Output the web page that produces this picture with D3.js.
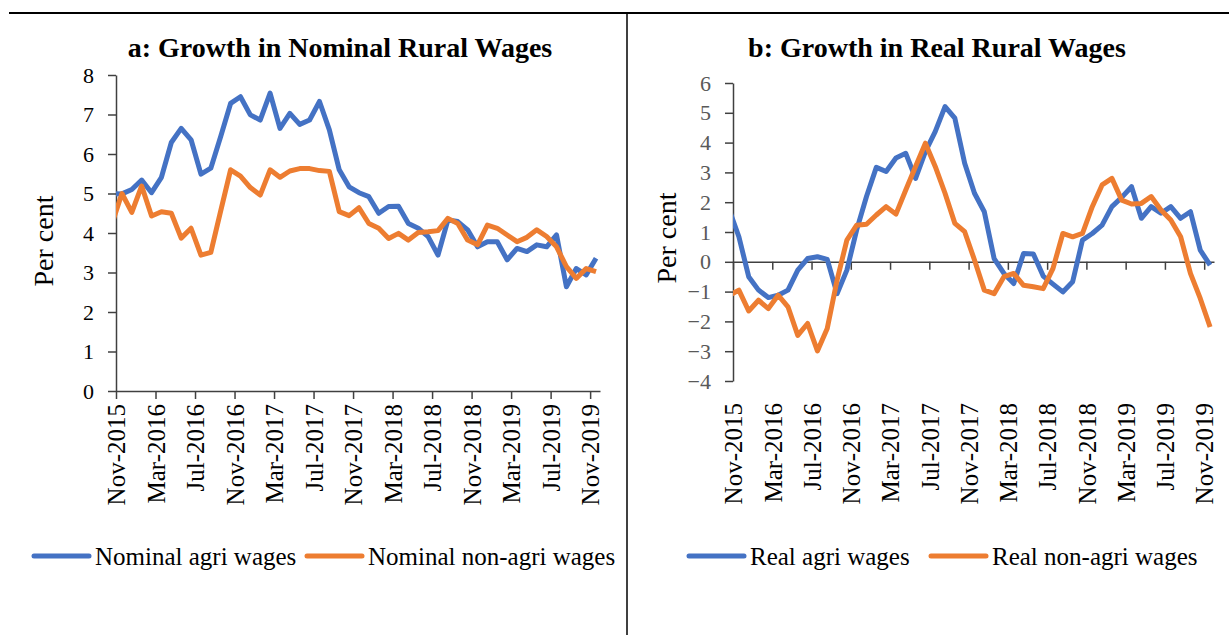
<!DOCTYPE html>
<html>
<head>
<meta charset="utf-8">
<script src="https://cdn.jsdelivr.net/npm/d3@7"></script>
<style>
  body { margin: 0; background: #fff; }
  svg { display: block; font-family: "Liberation Serif", "Times New Roman", serif; }
</style>
</head>
<body>
<div id="chart"></div>
<script>
const SERIF = '"Liberation Serif", "Times New Roman", serif';

// months Oct-2015 .. Nov-2019 (first one sits left of the axis and gets clipped)
const months = d3.timeMonth.range(new Date(2015, 9, 1), new Date(2019, 11, 1)).map(d3.timeFormat("%b-%Y"));

const tickLabels = ["Nov-2015", "Mar-2016", "Jul-2016", "Nov-2016", "Mar-2017", "Jul-2017", "Nov-2017",
  "Mar-2018", "Jul-2018", "Nov-2018", "Mar-2019", "Jul-2019", "Nov-2019"];

const nominalAgri = [5.0,
  4.99, 5.1, 5.34, 5.02, 5.41, 6.29, 6.65, 6.36, 5.49, 5.64,
  6.44, 7.28, 7.45, 6.99, 6.86, 7.54, 6.65, 7.03, 6.75, 6.86,
  7.33, 6.61, 5.6, 5.17, 5.02, 4.92, 4.5, 4.67, 4.68, 4.24,
  4.12, 3.91, 3.44, 4.33, 4.29, 4.08, 3.65, 3.78, 3.78, 3.32,
  3.61, 3.53, 3.7, 3.65, 3.95, 2.64, 3.1, 2.94, 3.36];

const nominalNonAgri = [4.24,
  5.0, 4.52, 5.19, 4.43, 4.54, 4.5, 3.87, 4.12, 3.44, 3.51,
  4.56, 5.6, 5.44, 5.15, 4.96, 5.6, 5.41, 5.57, 5.63, 5.63,
  5.58, 5.56, 4.54, 4.44, 4.64, 4.24, 4.12, 3.86, 3.99, 3.82,
  4.01, 4.03, 4.06, 4.37, 4.24, 3.82, 3.7, 4.2, 4.12, 3.95,
  3.78, 3.89, 4.08, 3.91, 3.65, 3.15, 2.85, 3.1, 3.02];

const realAgri = [1.76,
  0.84, -0.5, -0.95, -1.2, -1.12, -0.95, -0.28, 0.11, 0.17, 0.08,
  -1.07, -0.28, 1.07, 2.19, 3.17, 3.03, 3.48, 3.64, 2.8, 3.7,
  4.37, 5.21, 4.82, 3.31, 2.3, 1.68, 0.11, -0.39, -0.73, 0.28,
  0.26, -0.48, -0.75, -1.01, -0.67, 0.73, 0.95, 1.23, 1.85, 2.16,
  2.52, 1.46, 1.85, 1.63, 1.85, 1.46, 1.68, 0.39, -0.11];

const realNonAgri = [-1.13,
  -0.95, -1.65, -1.29, -1.57, -1.12, -1.51, -2.47, -2.07, -2.99, -2.24,
  -0.62, 0.73, 1.23, 1.26, 1.57, 1.85, 1.6, 2.41, 3.2, 3.98,
  3.2, 2.3, 1.29, 1.01, 0.06, -0.95, -1.07, -0.5, -0.39, -0.79,
  -0.84, -0.9, -0.22, 0.95, 0.84, 0.95, 1.85, 2.58, 2.8, 2.07,
  1.94, 1.96, 2.19, 1.74, 1.4, 0.84, -0.39, -1.23, -2.19];

const BLUE = "#4472C4", ORANGE = "#ED7D31";
const W = 1229, H = 635;
const pointOffset = 0.6; // data sit a little right of the month tick

const svg = d3.select("#chart").append("svg").attr("width", W).attr("height", H);

// frame lines
svg.append("line").attr("x1", 9).attr("x2", W).attr("y1", 13).attr("y2", 13)
  .attr("stroke", "#000").attr("stroke-width", 2);
svg.append("line").attr("x1", 627).attr("x2", 627).attr("y1", 13).attr("y2", H)
  .attr("stroke", "#000").attr("stroke-width", 1.5);

function drawPanel(p) {
  const g = svg.append("g");
  const x = d3.scaleLinear().domain([0, 49]).range(p.xRange);
  const y = d3.scaleLinear().domain(p.yDomain).range(p.yRange);
  const tickVals = tickLabels.map((_, j) => j * 4);

  g.append("text")
    .attr("x", p.titleX).attr("y", 57)
    .attr("text-anchor", "middle")
    .style("font-size", "28px").style("font-weight", "bold")
    .text(p.title);

  g.append("text")
    .attr("transform", `translate(${p.labelX},${p.labelY}) rotate(-90)`)
    .attr("text-anchor", "middle").attr("dominant-baseline", "central")
    .style("font-size", "28px")
    .text("Per cent");

  // y axis
  const yAxis = g.append("g")
    .attr("transform", `translate(${p.xRange[0]},0)`)
    .call(d3.axisLeft(y).tickValues(d3.range(p.yDomain[0], p.yDomain[1] + 1))
      .tickSize(8).tickSizeOuter(0).tickPadding(14).tickFormat(d3.format("d")));
  yAxis.attr("font-family", SERIF);
  yAxis.selectAll("text").style("font-size", "22px")
    .attr("fill", p.yTickColor);

  // x axis on the zero line
  const x0 = y(Math.max(0, p.yDomain[0]));
  const xAxis = g.append("g")
    .attr("transform", `translate(0,${x0})`)
    .call(d3.axisBottom(x).tickValues(tickVals).tickSize(8).tickSizeOuter(0)
      .tickFormat(""));

  // rotated month labels
  const lab = g.append("g")
    .attr("transform", `translate(0,${p.labelTop})`)
    .call(d3.axisBottom(x).tickValues(tickVals).tickSize(0).tickPadding(0)
      .tickFormat((d, j) => tickLabels[j]));
  lab.attr("font-family", SERIF);
  lab.select(".domain").remove();
  lab.selectAll("text")
    .style("font-size", "25px").attr("fill", "#000")
    .attr("transform", "rotate(-90)")
    .attr("x", 0).attr("y", 0).attr("dy", "0.35em")
    .style("text-anchor", "end");

  [yAxis, xAxis].forEach(a => {
    a.selectAll("path, line").attr("stroke", "#404040").attr("stroke-width", 1.5);
  });

  const clipId = "clip-" + p.key;
  g.append("clipPath").attr("id", clipId).append("rect")
    .attr("x", p.xRange[0]).attr("y", 0)
    .attr("width", p.xRange[1] - p.xRange[0] + 20).attr("height", H);

  const line = d3.line()
    .x((d, i) => x(i - 1 + pointOffset))
    .y(d => y(d));

  const plot = g.append("g").attr("clip-path", `url(#${clipId})`);
  p.series.forEach(s => {
    plot.append("path")
      .datum(s.values)
      .attr("d", line)
      .attr("fill", "none")
      .attr("stroke", s.color)
      .attr("stroke-width", 5)
      .attr("stroke-linejoin", "round");
  });

  // legend
  const lg = g.append("g").attr("transform", `translate(0,556)`);
  p.series.forEach(s => {
    lg.append("line")
      .attr("x1", s.legendX).attr("x2", s.legendX + 55)
      .attr("stroke", s.color).attr("stroke-width", 5).attr("stroke-linecap", "round");
    lg.append("text")
      .attr("x", s.legendX + 61).attr("y", 0).attr("dy", "0.35em")
      .style("font-size", "25px")
      .text(s.name);
  });
}

drawPanel({
  key: "a",
  title: "a: Growth in Nominal Rural Wages",
  titleX: 340,
  labelX: 43, labelY: 241,
  xRange: [116, 600],
  yDomain: [0, 8], yRange: [391, 75],
  yTickColor: "#000",
  labelTop: 404,
  series: [
    { name: "Nominal agri wages", values: nominalAgri, color: BLUE, legendX: 34 },
    { name: "Nominal non-agri wages", values: nominalNonAgri, color: ORANGE, legendX: 307 }
  ]
});

drawPanel({
  key: "b",
  title: "b: Growth in Real Rural Wages",
  titleX: 937,
  labelX: 666, labelY: 238,
  xRange: [733, 1214],
  yDomain: [-4, 6], yRange: [381, 83],
  yTickColor: "#595959",
  labelTop: 403,
  series: [
    { name: "Real agri wages", values: realAgri, color: BLUE, legendX: 689 },
    { name: "Real non-agri wages", values: realNonAgri, color: ORANGE, legendX: 931 }
  ]
});
</script>
</body>
</html>
